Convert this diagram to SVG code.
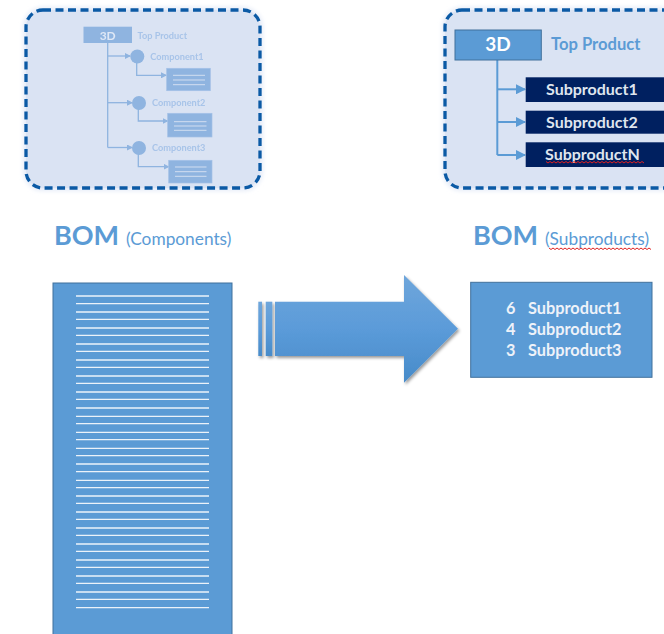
<svg xmlns="http://www.w3.org/2000/svg" width="664" height="634" viewBox="0 0 664 634">
<style>
text{font-family:"Lato","Liberation Sans",sans-serif}
.panel{fill:#dae3f3;stroke:#0b5aa5;stroke-width:3.300;stroke-dasharray:8 4.500}
.fl{stroke:#8fb4e0;stroke-width:1.300;fill:none}
.fb{fill:#8fb4e0}
.fbox{fill:#8fb4e0;stroke:#a3c1e6;stroke-width:.7}
.fline{stroke:#dae3f3;stroke-width:.9}
.fcap{font-size:9.200px;font-weight:700;fill:#a8c4e9}
.wl{stroke:#fff;stroke-width:1.300;opacity:.88}
.sl{stroke:#5b9bd5;stroke-width:2;fill:none}
.dark{fill:#002060}
.dt{font-size:16px;font-weight:700;fill:#dfe5ee}
.big{font-size:27px;font-weight:700;fill:#5b9bd5}
.sub{font-size:17.300px;fill:#5b9bd5}
.box{fill:#5b9bd5;stroke:#41719c;stroke-width:1}
.bt{font-size:16.300px;font-weight:700;fill:#eef2f9}
.sq{stroke:#e02020;stroke-width:1;fill:none}
</style>
<defs>
<linearGradient id="ag" x1="0" y1="0" x2="0" y2="1"><stop offset="0" stop-color="#6fa6db"/><stop offset=".5" stop-color="#5b9bd9"/><stop offset="1" stop-color="#478bc9"/></linearGradient>
<filter id="sh" x="-10%" y="-10%" width="120%" height="125%"><feDropShadow dx="1.500" dy="2" stdDeviation="1.500" flood-color="#000" flood-opacity=".4"/></filter>
<filter id="gl" x="-5%" y="-5%" width="110%" height="110%"><feGaussianBlur stdDeviation="2"/></filter>
<filter id="bl" x="-2%" y="-2%" width="104%" height="104%"><feGaussianBlur stdDeviation=".35"/></filter>
<marker id="fa" markerWidth="6" markerHeight="6" refX="5" refY="3" orient="auto" markerUnits="userSpaceOnUse"><path d="M0 0L6 3L0 6Z" fill="#8fb4e0"/></marker>
<marker id="sa" markerWidth="10" markerHeight="10" refX="9" refY="5" orient="auto" markerUnits="userSpaceOnUse"><path d="M0 0L10 5L0 10Z" fill="#5b9bd5"/></marker>
</defs>

<g id="panel-components">
<rect x="26" y="10" width="234" height="178" rx="17" fill="#e6ecf8" stroke="#e6ecf8" stroke-width="6" filter="url(#gl)"/>
<rect class="panel" x="26" y="10" width="234" height="178" rx="17"/>
</g>
<g id="panel-subproducts">
<rect x="445" y="10" width="240" height="178" rx="17" fill="#e6ecf8" stroke="#e6ecf8" stroke-width="6" filter="url(#gl)"/>
<rect class="panel" x="445" y="10" width="240" height="178" rx="17"/>
</g>

<g id="connectors">
<g filter="url(#bl)">
<path class="fl" d="M107.700 43V147.500"/>
<path class="fl" d="M107.700 56H130" marker-end="url(#fa)"/>
<path class="fl" d="M107.700 102.700H132" marker-end="url(#fa)"/>
<path class="fl" d="M107.700 147.500H132" marker-end="url(#fa)"/>
<path class="fl" d="M136.700 60V75.300H166" marker-end="url(#fa)"/>
<path class="fl" d="M138.300 107V121H167.500" marker-end="url(#fa)"/>
<path class="fl" d="M138.300 152V166.700H168.500" marker-end="url(#fa)"/>
</g>
<path class="sl" d="M497.300 60V155"/>
<path class="sl" d="M497.300 89.300H525" marker-end="url(#sa)"/>
<path class="sl" d="M497.300 122H525" marker-end="url(#sa)"/>
<path class="sl" d="M497.300 155H525" marker-end="url(#sa)"/>
</g>

<g id="faded-tree" filter="url(#bl)">
<g id="f-top"><rect x="83.500" y="26.700" width="48.500" height="16.300" class="fb"/><text x="107.700" y="39.500" text-anchor="middle" font-size="12" font-weight="700" fill="#dfe8f6">3D</text><text class="fcap" x="137.500" y="38.500">Top Product</text></g>
<g id="f-c1"><circle cx="137.300" cy="56.500" r="7" class="fb"/><text class="fcap" x="150.300" y="60">Component1</text>
<rect class="fbox" x="166.700" y="68.300" width="43.600" height="22.400"/><path class="fline" d="M173 75.300H205M173 80H205M173 84.700H205"/></g>
<g id="f-c2"><circle cx="139" cy="103" r="7" class="fb"/><text class="fcap" x="152" y="106">Component2</text>
<rect class="fbox" x="167.700" y="113.300" width="44.300" height="23.700"/><path class="fline" d="M174 121.700H206.500M174 126H206.500M174 130.300H206.500"/></g>
<g id="f-c3"><circle cx="139" cy="148" r="7" class="fb"/><text class="fcap" x="152" y="151">Component3</text>
<rect class="fbox" x="168.700" y="160.300" width="43.300" height="22.700"/><path class="fline" d="M175 167H206.500M175 171.700H206.500M175 176.300H206.500"/></g>
</g>

<g id="top-3d"><rect x="455" y="30" width="86.300" height="30" fill="#5b9bd5" stroke="#41719c"/><text x="498" y="51" text-anchor="middle" font-size="19" font-weight="700" fill="#fff">3D</text></g>
<text id="top-label" x="551" y="50" font-size="16.600" font-weight="700" fill="#5b9bd5">Top Product</text>
<g id="sub1"><rect class="dark" x="525.700" y="77.300" width="138.300" height="24.700"/><text class="dt" x="546" y="95">Subproduct1</text></g>
<g id="sub2"><rect class="dark" x="525.700" y="110.700" width="138.300" height="23"/><text class="dt" x="546" y="127.500">Subproduct2</text></g>
<g id="subN"><rect class="dark" x="525.700" y="142.300" width="138.300" height="24.700"/><text class="dt" x="545" y="160">SubproductN</text>
<path class="sq" d="M546 161.500l2 1.500 2-1.500 2 1.500 2-1.500 2 1.500 2-1.500 2 1.500 2-1.500 2 1.500 2-1.500 2 1.500 2-1.500 2 1.500 2-1.500 2 1.500 2-1.500 2 1.500 2-1.500 2 1.500 2-1.500 2 1.500 2-1.500 2 1.500 2-1.500 2 1.500 2-1.500 2 1.500 2-1.500 2 1.500 2-1.500 2 1.500 2-1.500 2 1.500 2-1.500 2 1.500 2-1.500 2 1.500 2-1.500 2 1.500 2-1.500 2 1.500 2-1.500 2 1.500 2-1.500 2 1.500 2-1.500 2 1.500 2-1.500 2 1.500"/></g>

<g id="bom-components-title"><text class="big" x="54" y="245">BOM</text><text class="sub" x="126" y="245">(Components)</text></g>
<g id="bom-subproducts-title"><text class="big" x="473" y="245">BOM</text><text class="sub" x="545" y="245">(Subproducts)</text>
<path class="sq" d="M549 248l2 1.500 2-1.500 2 1.500 2-1.500 2 1.500 2-1.500 2 1.500 2-1.500 2 1.500 2-1.500 2 1.500 2-1.500 2 1.500 2-1.500 2 1.500 2-1.500 2 1.500 2-1.500 2 1.500 2-1.500 2 1.500 2-1.500 2 1.500 2-1.500 2 1.500 2-1.500 2 1.500 2-1.500 2 1.500 2-1.500 2 1.500 2-1.500 2 1.500 2-1.500 2 1.500 2-1.500 2 1.500 2-1.500 2 1.500 2-1.500 2 1.500 2-1.500 2 1.500 2-1.500 2 1.500 2-1.500 2 1.500 2-1.500 2 1.500 2-1.500 2 1.500"/></g>

<g id="bom-components">
<rect class="box" x="53" y="283" width="179" height="360"/>
<path class="wl" d="M76 296H209M76 303.700H209M76 312H209M76 319.300H209M76 328H209M76 335.300H209M76 344H209M76 351.300H209M76 360H209M76 367.300H209M76 376H209M76 383.300H209M76 392H209M76 399.300H209M76 408H209M76 416.300H209M76 423.700H209M76 432.300H209M76 439.700H209M76 448.300H209M76 455.700H209M76 464H209M76 471.700H209M76 480.300H209M76 487.700H209M76 496H209M76 503.300H209M76 512H209M76 519.300H209M76 528H209M76 535.300H209M76 544H209M76 551.300H209M76 560H209M76 567.300H209M76 576H209M76 583.300H209M76 592H209M76 599.300H209M76 607.700H209"/>
</g>

<g id="arrow" filter="url(#sh)">
<rect x="258.300" y="301.700" width="3.700" height="54.300" fill="url(#ag)"/>
<rect x="265.700" y="301.700" width="6.600" height="54.300" fill="url(#ag)"/>
<path d="M275 301.700H404V275L458 328.700L404 382.700V356H275Z" fill="url(#ag)"/>
</g>

<g id="bom-subproducts">
<rect class="box" x="470.700" y="282.300" width="181.300" height="95"/>
<text class="bt" x="506" y="314">6</text><text class="bt" x="528" y="314">Subproduct1</text>
<text class="bt" x="506" y="335">4</text><text class="bt" x="528" y="335">Subproduct2</text>
<text class="bt" x="506" y="355.700">3</text><text class="bt" x="528" y="355.700">Subproduct3</text>
</g>
</svg>
